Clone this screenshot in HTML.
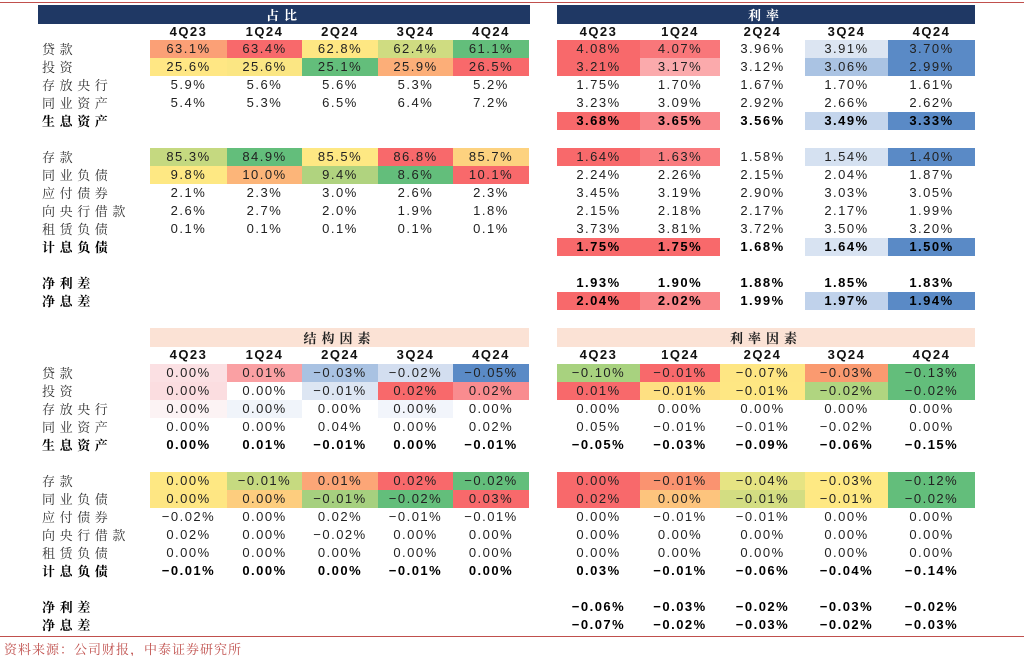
<!DOCTYPE html>
<html><head><meta charset="utf-8">
<style>
html,body{margin:0;padding:0;background:#fff;}
#root{position:relative;width:1024px;height:656px;overflow:hidden;background:#fff;font-family:"Liberation Sans","Noto Sans CJK SC",sans-serif;}
.c{position:absolute;height:18px;line-height:18px;text-align:center;font-size:13px;letter-spacing:1.5px;color:#222;}
.b{font-weight:bold;color:#000;}
.lab{position:absolute;height:18px;line-height:18px;font-size:13px;letter-spacing:4.6px;color:#333;font-family:"Noto Serif CJK SC","WenQuanYi Zen Hei",serif;}
.lab.b{font-weight:bold;color:#000;}
.hd{position:absolute;height:19px;line-height:19px;text-align:center;font-size:13px;font-weight:bold;letter-spacing:5px;font-family:"Noto Serif CJK SC",serif;}
.q{position:absolute;height:18px;line-height:18px;text-align:center;font-size:13px;font-weight:bold;letter-spacing:1.5px;color:#111;}
</style></head>
<body>
<div id="root">
<div style="position:absolute;left:0;top:2px;width:1024px;height:1px;background:#c0504d"></div>
<div style="position:absolute;left:0;top:636px;width:1024px;height:1px;background:#c0504d"></div>
<div style="position:absolute;left:4px;top:639px;font-size:13px;color:#c0504d;font-family:'Noto Serif CJK SC',serif;letter-spacing:1px">资料来源：公司财报，中泰证券研究所</div>
</div>
<script>
const quarters=['4Q23','1Q24','2Q24','3Q24','4Q24'];
// Top section rows
const topLabels=['贷款','投资','存放央行','同业资产','生息资产',null,'存款','同业负债','应付债券','向央行借款','租赁负债','计息负债',null,'净利差','净息差'];
const topBold=[0,0,0,0,1,0,0,0,0,0,0,1,0,1,1];
const shareVals=[['63.1%','63.4%','62.8%','62.4%','61.1%'],['25.6%','25.6%','25.1%','25.9%','26.5%'],['5.9%','5.6%','5.6%','5.3%','5.2%'],['5.4%','5.3%','6.5%','6.4%','7.2%'],null,null,
['85.3%','84.9%','85.5%','86.8%','85.7%'],['9.8%','10.0%','9.4%','8.6%','10.1%'],['2.1%','2.3%','3.0%','2.6%','2.3%'],['2.6%','2.7%','2.0%','1.9%','1.8%'],['0.1%','0.1%','0.1%','0.1%','0.1%'],null,null,null,null];
const rateVals=[['4.08%','4.07%','3.96%','3.91%','3.70%'],['3.21%','3.17%','3.12%','3.06%','2.99%'],['1.75%','1.70%','1.67%','1.70%','1.61%'],['3.23%','3.09%','2.92%','2.66%','2.62%'],['3.68%','3.65%','3.56%','3.49%','3.33%'],null,
['1.64%','1.63%','1.58%','1.54%','1.40%'],['2.24%','2.26%','2.15%','2.04%','1.87%'],['3.45%','3.19%','2.90%','3.03%','3.05%'],['2.15%','2.18%','2.17%','2.17%','1.99%'],['3.73%','3.81%','3.72%','3.50%','3.20%'],['1.75%','1.75%','1.68%','1.64%','1.50%'],null,
['1.93%','1.90%','1.88%','1.85%','1.83%'],['2.04%','2.02%','1.99%','1.97%','1.94%']];
// Bottom section rows
const botLabels=topLabels;
const botBold=topBold;
const structVals=[['0.00%','0.01%','-0.03%','-0.02%','-0.05%'],['0.00%','0.00%','-0.01%','0.02%','0.02%'],['0.00%','0.00%','0.00%','0.00%','0.00%'],['0.00%','0.00%','0.04%','0.00%','0.02%'],['0.00%','0.01%','-0.01%','0.00%','-0.01%'],null,
['0.00%','-0.01%','0.01%','0.02%','-0.02%'],['0.00%','0.00%','-0.01%','-0.02%','0.03%'],['-0.02%','0.00%','0.02%','-0.01%','-0.01%'],['0.02%','0.00%','-0.02%','0.00%','0.00%'],['0.00%','0.00%','0.00%','0.00%','0.00%'],['-0.01%','0.00%','0.00%','-0.01%','0.00%'],null,null,null];
const rateFVals=[['-0.10%','-0.01%','-0.07%','-0.03%','-0.13%'],['0.01%','-0.01%','-0.01%','-0.02%','-0.02%'],['0.00%','0.00%','0.00%','0.00%','0.00%'],['0.05%','-0.01%','-0.01%','-0.02%','0.00%'],['-0.05%','-0.03%','-0.09%','-0.06%','-0.15%'],null,
['0.00%','-0.01%','-0.04%','-0.03%','-0.12%'],['0.02%','0.00%','-0.01%','-0.01%','-0.02%'],['0.00%','-0.01%','-0.01%','0.00%','0.00%'],['0.00%','0.00%','0.00%','0.00%','0.00%'],['0.00%','0.00%','0.00%','0.00%','0.00%'],['0.03%','-0.01%','-0.06%','-0.04%','-0.14%'],null,
['-0.06%','-0.03%','-0.02%','-0.03%','-0.02%'],['-0.07%','-0.02%','-0.03%','-0.02%','-0.03%']];

// styling (colour scales) kept separate
const shareCol={0:['#fba076','#f8696b','#fee783','#cfdc81','#63be7b'],1:['#ffe784','#fbe683','#63be7b','#fcae78','#f8696b'],6:['#c5d980','#63be7b','#fee883','#f8696b','#fdd27f'],7:['#fee883','#fcb579','#b0d37f','#63be7b','#f8696b']};
const rateCol={0:['#f8696b','#f9777a',null,'#dce5f2','#5a8ac6'],1:['#f8696b','#fbaaac',null,'#aac3e3','#5a8ac6'],4:['#f8696b','#f9868a',null,'#c4d5ec','#5a8ac6'],6:['#f8696b','#f97c7f',null,'#d5e1f1','#5a8ac6'],11:['#f8696b','#f8696b',null,'#d8e3f2','#5a8ac6'],14:['#f8696b','#f98689',null,'#c0d2eb','#5a8ac6']};
const structCol={0:['#fbe0e3','#faa0a3','#a9c2e2','#d3def0','#5a8ac6'],1:['#fbdde0',null,'#dde6f3','#f8696b','#f98c8f'],2:['#fcf3f4','#f0f4fa',null,'#f2f5fb',null],6:['#fee883','#c6da80','#fca677','#f8696b','#63be7b'],7:['#fee683','#fdcd7e','#a6d07f','#63be7b','#f8696b']};
const rateFCol={0:['#a8d27f','#f8696b','#fee683','#fa9a70','#63be7b'],1:['#f8696b','#fee082','#fee783','#b0d580','#63be7b'],6:['#f8696b','#fa9370','#e6e483','#fee983','#63be7b'],7:['#f8696b','#fdc47d','#d3dd82','#fee883','#63be7b']};

const root=document.getElementById('root');
const LX=[150,227,302,378,453,529], RX=[557,640,720,805,888,975];
function mk(cls,x,y,w,txt,bg){const d=document.createElement('div');d.className=cls;d.style.left=x+'px';d.style.top=y+'px';if(w)d.style.width=w+'px';if(bg)d.style.background=bg;if(txt!=null)d.textContent=txt;root.appendChild(d);return d;}
function header(xs,y,title,bg,color,name){
  const h=mk('hd',xs[0],y,xs[5]-xs[0],title,bg);h.style.color=color;
  
  
}
function quarterRow(xs,y,name){quarters.forEach((q,i)=>{const d=mk('q',xs[i],y,xs[i+1]-xs[i],q);
  
  });}
function grid(xs,y0,vals,bold,cols,name){
  vals.forEach((row,r)=>{if(!row)return;const y=y0+r*18;
    row.forEach((v,i)=>{const bg=cols[r]?cols[r][i]:null;const d=mk('c'+(bold[r]?' b':''),xs[i],y,xs[i+1]-xs[i],v.replace('-','−'),bg);
      
      });});
}
function labels(y0,labs,bold,name){labs.forEach((l,r)=>{if(!l)return;const d=mk('lab'+(bold[r]?' b':''),42,y0+r*18,null,l);
  
  });}

// Top block
header([38,0,0,0,0,530],5,'占比','#1f3864','#fff','share');
header(RX,5,'利率','#1f3864','#fff','rate');
quarterRow(LX,23,'share');quarterRow(RX,23,'rate');
labels(40,topLabels,topBold,'top');
grid(LX,40,shareVals,topBold,shareCol,'share');
grid(RX,40,rateVals,topBold,rateCol,'rate');
// Bottom block
header(LX,328,'结构因素','#fbe2d5','#222','structure-factor');
header(RX,328,'利率因素','#fbe2d5','#222','rate-factor');
quarterRow(LX,346,'structure');quarterRow(RX,346,'rate-factor');
labels(364,botLabels,botBold,'bottom');
grid(LX,364,structVals,botBold,structCol,'structure');
grid(RX,364,rateFVals,botBold,rateFCol,'rate-factor');
</script>
</body></html>
